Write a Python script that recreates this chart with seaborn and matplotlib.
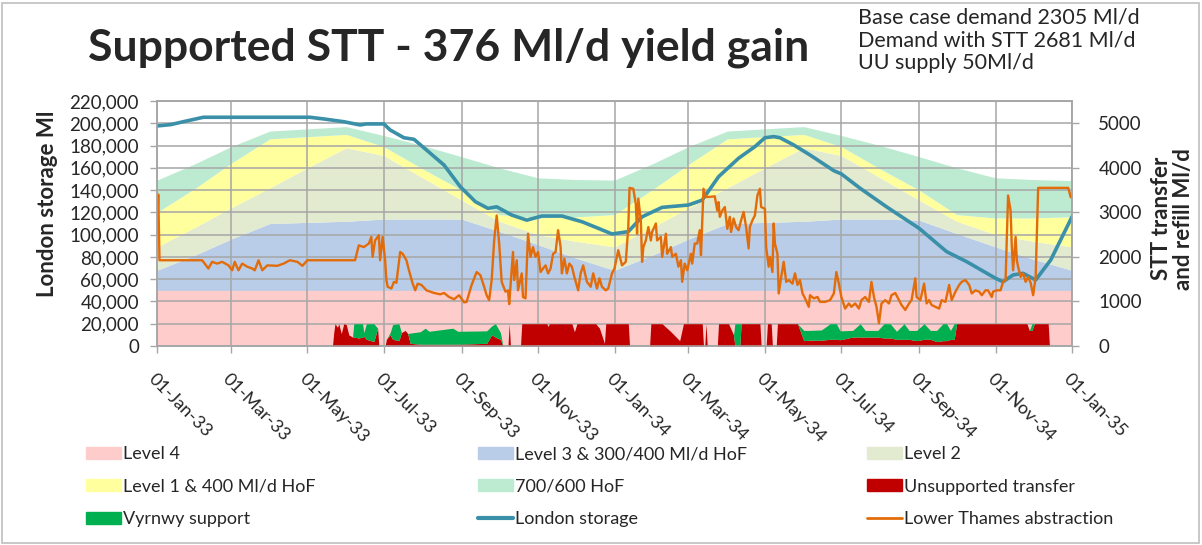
import matplotlib
matplotlib.use("Agg")
import matplotlib.pyplot as plt
import matplotlib.dates as mdates
from matplotlib.lines import Line2D
from matplotlib.patches import Patch, Rectangle
from matplotlib.ticker import FuncFormatter, MultipleLocator
import numpy as np
import pandas as pd
import seaborn as sns

sns.set_style("white")
plt.rcParams["font.family"] = ["Lato", "DejaVu Sans"]

START = pd.Timestamp("1933-01-01")
END = pd.Timestamp("1935-01-01")

# control curves, first of each month Jan-33 .. Jan-35 (Ml)
band_months = pd.date_range(START, END, freq="MS")
level4 = [50000] * 25
level3 = [68000, 82000, 96000, 110000, 111000, 112000, 114000, 114000, 114000,
          103000, 91000, 79000, 68000, 82000, 96000, 110000, 111000, 112000,
          114000, 114000, 113000, 101000, 89000, 78000, 68000]
level2 = [89000, 107000, 124000, 142000, 160000, 178000, 171000, 151000, 131000,
          112000, 100000, 94000, 89000, 107000, 124000, 142000, 160000, 178000,
          171000, 151000, 131000, 112000, 100000, 94000, 89000]
level1 = [120000, 142000, 164000, 186000, 188000, 190000, 179000, 159000, 140000,
          118000, 115000, 116000, 118000, 141000, 163000, 186000, 188000, 190000,
          179000, 159000, 140000, 118000, 115000, 115000, 116000]
hof = [149000, 164000, 179000, 193000, 195000, 197000, 189000, 180000, 170000,
       160000, 151000, 149500, 149000, 164000, 179000, 193000, 195000, 197000,
       189000, 180000, 170000, 160000, 151000, 149500, 148500]

# London storage (Ml), by day from 1 Jan 1933
storage_day = [0, 11, 21, 37, 122, 133, 149, 162, 167, 181, 186, 197, 205, 215,
               229, 242, 254, 264, 271, 283, 295, 307, 323, 339, 352, 363, 376,
               387, 403, 424, 435, 448, 464, 477, 485, 492, 497, 508, 521, 540,
               546, 561, 582, 608, 630, 646, 669, 675, 683, 691, 701, 713, 730]
storage_ml = [197600, 198800, 201400, 205400, 205400, 203900, 201400, 198500,
              199400, 199400, 194000, 187000, 185600, 176000, 162500, 143000,
              129600, 123600, 125000, 117600, 113000, 116700, 116700, 111600,
              105700, 100600, 102700, 116000, 124500, 126600, 131000, 152000,
              168600, 179000, 187000, 188000, 187000, 180500, 171500, 157400,
              154500, 141600, 125000, 105700, 84700, 75700, 60800, 57700, 63800,
              65300, 59300, 77200, 116000]

# Lower Thames abstraction (Ml/d)
lt_day = [0, 1, 2, 36, 41, 44, 48, 52, 57, 60,
          62, 65, 68, 72, 76, 78, 81, 84, 88, 96,
          101, 106, 112, 116, 120, 158, 161, 165, 169, 171,
          172, 174, 177, 178, 180, 182, 183, 184, 187, 189,
          191, 194, 196, 199, 201, 204, 206, 208, 211, 215,
          221, 226, 229, 233, 237, 241, 245, 247, 249, 251,
          255, 258, 261, 263, 265, 267, 269, 271, 273, 275,
          278, 280, 281, 284, 285, 287, 288, 291, 292, 294,
          296, 298, 300, 302, 304, 306, 308, 310, 312, 314,
          316, 318, 320, 322, 323, 325, 327, 329, 331, 333,
          336, 338, 340, 343, 346, 348, 351, 353, 355, 358,
          360, 363, 365, 368, 371, 374, 376, 377, 380, 382,
          383, 384, 386, 387, 388, 390, 392, 394, 395, 398,
          399, 402, 403, 406, 407, 410, 411, 414, 416, 418,
          419, 421, 423, 426, 427, 429, 431, 433, 434, 436,
          438, 445, 447, 448, 449, 451, 453, 455, 457, 458,
          460, 462, 464, 466, 468, 470, 472, 473, 475, 477,
          479, 481, 482, 485, 486, 488, 489, 491, 492, 493,
          495, 496, 498, 500, 502, 504, 507, 509, 511, 513,
          515, 517, 520, 521, 524, 527, 529, 533, 537, 540,
          542, 544, 546, 549, 552, 554, 557, 560, 562, 565,
          568, 570, 572, 574, 576, 578, 581, 584, 586, 589,
          592, 594, 597, 600, 602, 605, 606, 609, 612, 614,
          616, 618, 621, 624, 626, 629, 632, 634, 637, 640,
          642, 645, 648, 650, 653, 656, 658, 661, 663, 666,
          667, 670, 673, 675, 677, 679, 681, 682, 683, 685,
          686, 687, 689, 691, 693, 695, 697, 699, 701, 703,
          727, 729, 730]
lt_flow = [2500, 3400, 1925, 1925, 1740, 1890, 1850, 1890, 1810, 1700,
           1890, 1700, 1850, 1780, 1740, 1700, 1925, 1700, 1810, 1800,
           1850, 1925, 1890, 1800, 1925, 1925, 2260, 2220, 2300, 2450,
           2000, 2370, 2485, 1925, 2450, 1925, 1480, 1330, 1290, 1440,
           1420, 2110, 2070, 1925, 1700, 1400, 1250, 1400, 1370, 1250,
           1190, 1160, 1190, 1100, 1050, 1140, 980, 990, 1180, 1370,
           1660, 1590, 1330, 1140, 1030, 1480, 2370, 2930, 2300, 1440,
           1220, 1250, 940, 2110, 1480, 1925, 1250, 1630, 1100, 1070,
           2520, 2000, 2220, 2000, 2110, 1660, 1740, 1810, 1630, 1740,
           2070, 2110, 2600, 2220, 1630, 1960, 1630, 1850, 1780, 1550,
           1250, 1630, 1810, 1440, 1330, 1630, 1290, 1520, 1330, 1250,
           1290, 1630, 1740, 2150, 1810, 1890, 2670, 3550, 3530, 3190,
           2520, 3310, 2820, 1890, 2220, 2370, 2670, 2370, 2560, 2750,
           2370, 2450, 2000, 2520, 2070, 2220, 2000, 2070, 1780, 1925,
           1440, 1850, 1700, 2070, 1850, 2300, 2300, 2600, 2040, 3530,
           3340, 3360, 3040, 3230, 2900, 3040, 3120, 2630, 2900, 2560,
           2860, 2670, 2600, 2820, 3010, 2670, 2190, 2670, 2820, 2930,
           3380, 3530, 3120, 3080, 2220, 1780, 2000, 1660, 2750, 2300,
           2070, 1180, 1550, 1890, 1440, 1480, 1400, 1630, 1370, 1480,
           1180, 1070, 880, 1140, 1070, 1100, 990, 990, 1030, 1180,
           1660, 1400, 1100, 840, 955, 880, 955, 840, 1030, 1100,
           990, 1440, 1100, 880, 510, 955, 1030, 955, 1140, 1190,
           1030, 920, 810, 955, 1030, 1520, 1100, 1030, 1400, 955,
           1030, 920, 880, 840, 1030, 990, 1370, 1030, 1220, 1370,
           1440, 1480, 1370, 1180, 1250, 1220, 1140, 1250, 1250, 1100,
           1220, 1250, 1250, 1440, 1480, 3380, 3040, 2220, 1700, 2450,
           1925, 1780, 1550, 1630, 1440, 1550, 1420, 1140, 1550, 3550,
           3550, 3340, 3340]

# STT transfer split (Ml/d)
stt_day = [0, 140, 141, 142, 144, 145, 147, 149, 151, 153,
           156, 157, 161, 164, 165, 167, 173, 176, 177, 182,
           183, 186, 188, 193, 195, 198, 200, 202, 210, 214,
           217, 236, 240, 263, 267, 270, 274, 276, 280, 281,
           282, 290, 291, 311, 312, 313, 331, 333, 335, 350,
           353, 357, 358, 376, 377, 393, 394, 403, 410, 417,
           420, 435, 436, 437, 438, 439, 447, 448, 456, 460,
           461, 465, 466, 481, 482, 486, 487, 490, 491, 494,
           495, 511, 516, 520, 530, 537, 542, 545, 555, 561,
           565, 575, 580, 585, 590, 596, 600, 606, 612, 617,
           622, 627, 630, 633, 636, 638, 694, 696, 698, 700,
           711, 712, 730]
unsupported = [0, 0, 300, 500, 420, 500, 280, 500, 480, 250,
               200, 200, 180, 200, 220, 150, 100, 400, 0, 0,
               150, 250, 150, 120, 300, 350, 280, 60, 40, 40,
               40, 40, 40, 60, 250, 200, 150, 0, 0, 500,
               0, 0, 500, 500, 440, 500, 500, 320, 500, 500,
               400, 60, 500, 500, 0, 0, 500, 500, 320, 120,
               500, 500, 0, 0, 500, 0, 0, 500, 500, 250,
               0, 0, 500, 500, 0, 0, 500, 500, 0, 0,
               500, 500, 120, 130, 130, 150, 150, 140, 200, 200,
               200, 200, 180, 180, 150, 150, 150, 120, 150, 150,
               100, 120, 120, 150, 150, 500, 500, 350, 350, 500,
               500, 0, 0]
vyrnwy = [0, 0, 0, 0, 0, 0, 0, 0, 0, 0,
          0, 300, 320, 300, 80, 350, 400, 0, 0, 0,
          0, 50, 330, 380, 0, 0, 0, 230, 280, 360,
          290, 360, 290, 280, 200, 300, 150, 0, 0, 0,
          0, 0, 0, 0, 0, 0, 0, 0, 0, 0,
          0, 0, 0, 0, 0, 0, 0, 0, 0, 0,
          0, 0, 0, 0, 0, 0, 0, 0, 0, 0,
          500, 500, 0, 0, 0, 0, 0, 0, 0, 0,
          0, 0, 230, 220, 230, 350, 350, 200, 150, 300,
          150, 150, 320, 320, 180, 350, 200, 230, 350, 200,
          250, 380, 380, 200, 350, 0, 0, 0, 150, 0,
          0, 0, 0]

PINK, BLUE, BEIGE = "#FFCCCC", "#B9CDE8", "#E2EACF"
YELLOW, MINT = "#FFFF9E", "#BDEBD2"
RED, GREEN = "#C00000", "#00B050"
TEAL, ORANGE = "#3A90A8", "#E36C0A"
GRID = "#A6A6A6"


def to_dates(days):
    return START + pd.to_timedelta(days, unit="D")


fig = plt.figure(figsize=(12.02, 5.45), dpi=100)
ax = fig.add_axes([157 / 1202, 1 - 346 / 545, 915 / 1202, 245 / 545])

# stacked control-curve bands
ax.fill_between(band_months, 0, level4, color=PINK, lw=0, zorder=1)
ax.fill_between(band_months, level4, level3, color=BLUE, lw=0, zorder=1)
ax.fill_between(band_months, level3, level2, color=BEIGE, lw=0, zorder=1)
ax.fill_between(band_months, level2, level1, color=YELLOW, lw=0, zorder=1)
ax.fill_between(band_months, level1, hof, color=MINT, lw=0, zorder=1)

sns.lineplot(x=to_dates(storage_day), y=storage_ml, ax=ax, color=TEAL,
             lw=2.6, zorder=3, legend=False)

ax.set_xlim(START, END)
ax.set_ylim(0, 220000)
ax.yaxis.set_major_locator(MultipleLocator(20000))
ax.yaxis.set_major_formatter(FuncFormatter(lambda v, _: f"{v:,.0f}"))
ax.xaxis.set_major_locator(mdates.MonthLocator(bymonth=[1, 3, 5, 7, 9, 11]))
ax.xaxis.set_major_formatter(mdates.DateFormatter("%d-%b-%y"))
ax.grid(True, color=GRID, lw=1.1)
ax.set_axisbelow(False)
ax.tick_params(axis="y", left=True, length=5, width=1, color=GRID,
               labelsize=13.5, pad=8)
ax.tick_params(axis="x", bottom=True, length=5, width=1, color=GRID,
               labelsize=13, pad=13)
for lbl in ax.get_xticklabels():
    lbl.set_rotation(-45)
    lbl.set_ha("left")
    lbl.set_va("top")
    lbl.set_rotation_mode("anchor")
ax.set_xlabel("")
ax.set_ylabel("London storage Ml", fontsize=16, fontweight="bold", va="center")
ax.yaxis.set_label_coords(-0.12, 0.58)

# right axis: STT transfer and abstraction
ax2 = ax.twinx()
sdates = to_dates(stt_day)
ax2.fill_between(sdates, 0, unsupported, color=RED, lw=0)
ax2.fill_between(sdates, unsupported, np.add(unsupported, vyrnwy),
                 color=GREEN, lw=0)
sns.lineplot(x=to_dates(lt_day), y=lt_flow, ax=ax2, color=ORANGE, lw=1.7,
             legend=False)
ax2.set_ylim(0, 5500)
ax2.set_yticks(range(0, 5001, 1000))
ax2.grid(False)
ax2.tick_params(axis="y", right=True, length=5, width=1, color=GRID,
                labelsize=13.5, pad=14)
ax2.set_ylabel("STT transfer\nand refill Ml/d", fontsize=16,
               fontweight="bold", rotation=90, linespacing=1.05,
               va="center", ha="center")
ax2.yaxis.set_label_coords(1.11, 0.52)

for a in (ax, ax2):
    for s in a.spines.values():
        s.set_color(GRID)
        s.set_linewidth(1.1)

# texts
fig.text(88 / 1202, 1 - 61 / 545, "Supported STT - 376 Ml/d yield gain",
         fontsize=32, fontweight="bold", va="baseline", ha="left")
fig.text(858 / 1202, 1 - 8 / 545,
         "Base case demand 2305 Ml/d\nDemand with STT 2681 Ml/d\nUU supply 50Ml/d",
         fontsize=15.5, va="top", ha="left", linespacing=1.15)

# legend in three columns, filled row by row
columns = [
    ([Patch(color=PINK), Patch(color=YELLOW), Patch(color=GREEN)],
     ["Level 4", "Level 1 & 400 Ml/d HoF", "Vyrnwy support"], 86),
    ([Patch(color=BLUE), Patch(color=MINT), Line2D([], [], color=TEAL, lw=3)],
     ["Level 3 & 300/400 Ml/d HoF", "700/600 HoF", "London storage"], 478),
    ([Patch(color=BEIGE), Patch(color=RED), Line2D([], [], color=ORANGE, lw=2)],
     ["Level 2", "Unsupported transfer", "Lower Thames abstraction"], 867),
]
for handles, labels, xpix in columns:
    fig.legend(handles, labels, loc="upper left",
               bbox_to_anchor=(xpix / 1202, 1 - 446 / 545), frameon=False,
               fontsize=13, handlelength=1.95, handleheight=0.67,
               handletextpad=0.1, labelspacing=0.92, borderpad=0,
               borderaxespad=0)

fig.patches.append(Rectangle((2 / 1202, 2 / 545), 1197 / 1202, 540 / 545,
                             transform=fig.transFigure, fill=False,
                             edgecolor="#BFBFBF", lw=1.2))

fig.savefig("out.png", dpi=100)
